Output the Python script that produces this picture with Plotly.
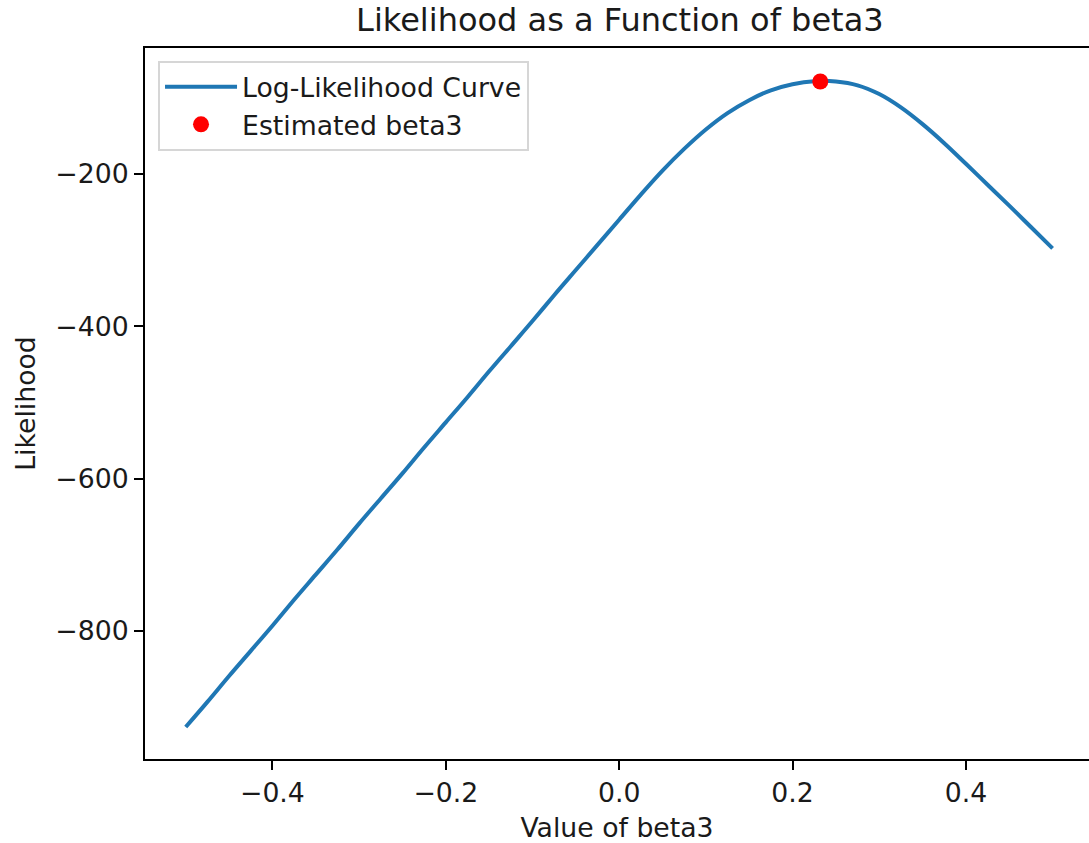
import plotly.graph_objects as go

# ---- data ----
beta3 = [-0.500, -0.475, -0.450, -0.425, -0.400, -0.375, -0.350, -0.325, -0.300, -0.275,
         -0.250, -0.225, -0.200, -0.175, -0.150, -0.125, -0.100, -0.075, -0.050, -0.025,
         0.000, 0.025, 0.050, 0.075, 0.100, 0.125, 0.150, 0.175, 0.200, 0.225,
         0.250, 0.275, 0.300, 0.325, 0.350, 0.375, 0.400, 0.425, 0.450, 0.475, 0.500]
loglik = [-926, -893, -859, -826, -793, -759, -726, -693, -659, -626,
          -593, -559, -526, -493, -459, -426, -393, -359, -326, -293,
          -260, -227, -195.5, -167, -141.5, -120, -103, -90, -82, -78,
          -78.5, -83.5, -95, -112.5, -134.5, -159.5, -186.5, -214, -241.5, -269.5, -297.5]

beta3_hat = [0.232]
loglik_hat = [-78.5]

x_tickvals = [-0.4, -0.2, 0.0, 0.2, 0.4]
x_ticktext = ["\u22120.4", "\u22120.2", "0.0", "0.2", "0.4"]
y_tickvals = [-800, -600, -400, -200]
y_ticktext = ["\u2212800", "\u2212600", "\u2212400", "\u2212200"]

FONT = "DejaVu Sans"
TXT = "#1a1a1a"

fig = go.Figure()
fig.add_trace(go.Scatter(
    x=beta3, y=loglik, mode="lines", name="Log-Likelihood Curve",
    line=dict(color="#1f77b4", width=4, shape="spline", smoothing=1.0),
))
fig.add_trace(go.Scatter(
    x=beta3_hat, y=loglik_hat, mode="markers", name="Estimated beta3",
    marker=dict(color="red", size=16, line=dict(width=0)),
))

fig.update_layout(
    width=1089, height=843,
    margin=dict(l=145, r=0, t=48, b=84),
    paper_bgcolor="white", plot_bgcolor="white",
    font=dict(family=FONT, size=26.7, color=TXT),
    title=dict(text="Likelihood as a Function of beta3",
               font=dict(family=FONT, size=32, color=TXT),
               x=0.503, xref="paper", xanchor="center",
               y=1 - 20 / 843, yref="container", yanchor="middle"),
    xaxis=dict(range=[-0.547, 0.542], tickvals=x_tickvals, ticktext=x_ticktext,
               showline=True, linecolor="black", linewidth=2, mirror=True,
               ticks="outside", ticklen=9, tickwidth=2, tickcolor="black",
               showgrid=False, zeroline=False,
               tickfont=dict(size=26.7, color=TXT),
               title=dict(text="Value of beta3", font=dict(size=26.7, color=TXT), standoff=11)),
    yaxis=dict(range=[-968, -34.5], tickvals=y_tickvals, ticktext=y_ticktext,
               showline=True, linecolor="black", linewidth=2, mirror=False,
               ticks="outside", ticklen=9, tickwidth=2, tickcolor="black",
               showgrid=False, zeroline=False,
               tickfont=dict(size=26.7, color=TXT),
               title=dict(text="Likelihood", font=dict(size=26.7, color=TXT), standoff=12)),
    legend=dict(x=0.0138, y=0.982, xanchor="left", yanchor="top",
                bgcolor="rgba(255,255,255,0.8)", bordercolor="#d6d6d6", borderwidth=2,
                itemwidth=72,
                font=dict(size=26.7, color=TXT)),
    showlegend=True,
)

fig.write_html("out.html")
